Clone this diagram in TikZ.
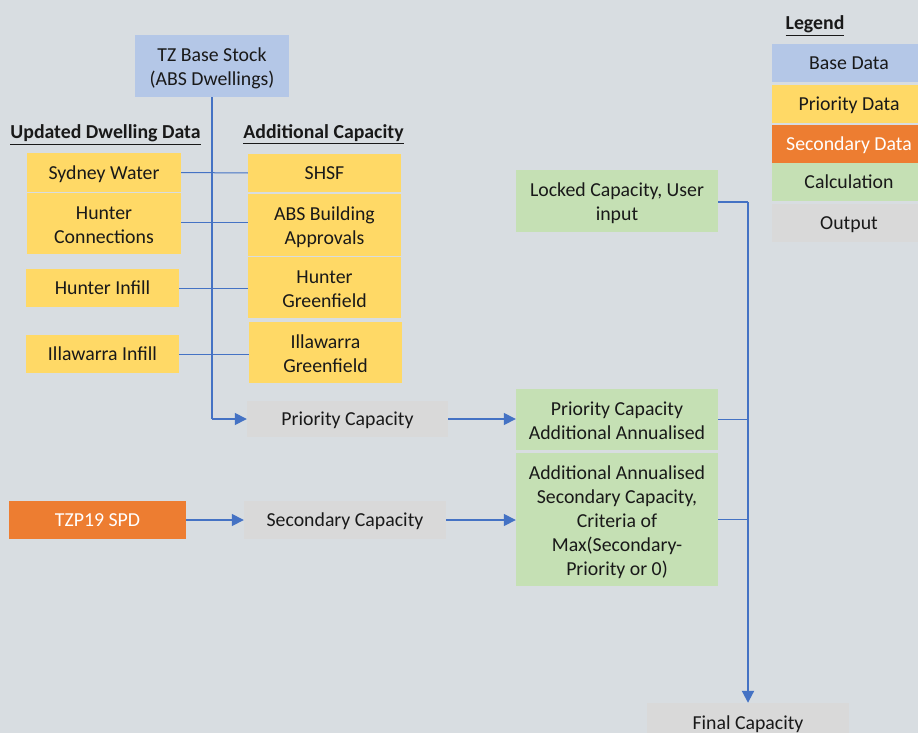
\documentclass[tikz,border=0pt]{standalone}
\usepackage{fontspec}
\setmainfont{Carlito}
\usetikzlibrary{arrows.meta}
\definecolor{bgc}{RGB}{216,221,225}
\definecolor{based}{RGB}{180,199,231}
\definecolor{prio}{RGB}{255,217,102}
\definecolor{secd}{RGB}{237,125,49}
\definecolor{calc}{RGB}{197,224,180}
\definecolor{outp}{RGB}{217,217,217}
\definecolor{link}{RGB}{68,114,196}
\tikzset{
  % text block with fixed top and bottom struts, so cap height sits centred
  box/.style={rectangle, inner sep=0pt, align=center, text=black!90,
    font=\fontsize{19.8}{24}\selectfont,
    execute at begin node={\rule{0pt}{18pt}},
    execute at end node={\rule[-5pt]{0pt}{0pt}}},
  basebox/.style={box, fill=based},
  priobox/.style={box, fill=prio},
  secbox/.style={box, fill=secd, text=white},
  calcbox/.style={box, fill=calc},
  outbox/.style={box, fill=outp},
  heading/.style={font=\fontsize{19.8}{24}\selectfont\bfseries, inner sep=0pt, text=black!90},
  thin link/.style={draw=link, line width=1pt},
  tip/.style={-{Triangle[length=12pt,width=12pt]}},
  feed/.style={draw=link, line width=1.5pt, tip},
  trunk/.style={draw=link, line width=2pt},
}
\newcommand{\ul}[1]{\underline{#1}}
% taller first line for boxes holding several lines
\newcommand{\firstline}{\rule{0pt}{20.5pt}}
\begin{document}
\begin{tikzpicture}[x=1pt,y=-1pt]
  \fill[bgc] (0,0) rectangle (918,733);
  \useasboundingbox (0,0) rectangle (918,733);
  \clip (0,0) rectangle (918,733);

  % base stock
  \node[basebox, minimum width=154pt, minimum height=62pt] (tz) at (212,66) {\firstline TZ Base Stock\\(ABS Dwellings)};

  % column headings
  \node[heading, anchor=base] (hdu) at (105.5,139) {\ul{Updated Dwelling Data}};
  \node[heading, anchor=base] (hda) at (323.5,139) {\ul{Additional Capacity}};

  % updated dwelling data
  \node[priobox, minimum width=154pt, minimum height=39pt] (sw) at (104,172.5) {Sydney Water};
  \node[priobox, minimum width=154pt, minimum height=61pt] (hc) at (104,223.5) {\firstline Hunter\\Connections};
  \node[priobox, minimum width=153pt, minimum height=38pt] (hi) at (102.5,288) {Hunter Infill};
  \node[priobox, minimum width=153pt, minimum height=38pt] (ii) at (102.5,354) {Illawarra Infill};

  % additional capacity
  \node[priobox, minimum width=153pt, minimum height=38pt] (shsf) at (324.5,173) {SHSF};
  \node[priobox, minimum width=153pt, minimum height=62pt] (abs) at (324.5,225) {\firstline ABS Building\\Approvals};
  \node[priobox, minimum width=153pt, minimum height=61pt] (hg) at (324.5,287.5) {\firstline Hunter\\Greenfield};
  \node[priobox, minimum width=153pt, minimum height=61pt] (ig) at (325.5,352.5) {\firstline Illawarra\\Greenfield};

  % capacities
  \node[outbox, minimum width=201pt, minimum height=36pt] (pc) at (347.5,419) {Priority Capacity};
  \node[secbox, minimum width=177pt, minimum height=38pt] (tzp) at (97.5,520) {TZP19 SPD};
  \node[outbox, minimum width=202pt, minimum height=38pt] (sc) at (345,520) {Secondary Capacity};

  % calculations
  \node[calcbox, minimum width=202pt, minimum height=62pt] (lc) at (617,201) {\firstline Locked Capacity, User\\input};
  \node[calcbox, minimum width=202pt, minimum height=61pt] (pca) at (617,419.5) {\firstline Priority Capacity\\Additional Annualised};
  \node[calcbox, minimum width=202pt, minimum height=133pt] (asc) at (617,519.5) {\firstline Additional Annualised\\Secondary Capacity,\\Criteria of\\Max(Secondary-\\Priority or 0)};

  % final output (runs off the lower edge)
  \node[outbox, minimum width=202pt, minimum height=42pt] (fc) at (748,724) {};
  \node[heading, font=\fontsize{19.8}{24}\selectfont, anchor=base] (fct) at (748,729) {Final Capacity};

  % legend
  \node[heading, anchor=base] (lgh) at (815,30) {\ul{Legend}};
  \node[basebox, minimum width=154pt, minimum height=38pt] (lg1) at (849,63) {Base Data};
  \node[priobox, minimum width=154pt, minimum height=38pt] (lg2) at (849,104) {Priority Data};
  \node[secbox, minimum width=154pt, minimum height=38pt] (lg3) at (849,144) {Secondary Data};
  \node[calcbox, minimum width=154pt, minimum height=38pt] (lg4) at (849,182) {Calculation};
  \node[outbox, minimum width=154pt, minimum height=38pt] (lg5) at (849,223) {Output};

  % links from dwelling data to additional capacity
  \draw[thin link] (sw.east) -- (shsf.west);
  \draw[thin link] (hc.east |- 0,222) -- (abs.west |- 0,222);
  \draw[thin link] (hi.east) -- (hg.west |- hi.east);
  \draw[thin link] (ii.east) -- (ig.west |- ii.east);

  % base stock feeding priority capacity
  \draw[trunk] (tz.south) -- (tz.south |- pc.west);
  \draw[feed] (tz.south |- pc.west) -- (pc.west);

  % capacities to calculations
  \draw[feed] (pc.east) -- (pc.east -| pca.west);
  \draw[feed] (tzp.east) -- (sc.west);
  \draw[feed] (sc.east) -- (asc.west |- sc.east);

  % calculations to final capacity
  \coordinate (bus) at (748,202);
  \draw[thin link, line width=1.5pt] (lc.east |- bus) -- (bus);
  \draw[thin link, line width=1.5pt] (pca.east) -- (pca.east -| bus);
  \draw[thin link, line width=1.5pt] (asc.east) -- (asc.east -| bus);
  \draw[trunk, tip] (bus) -- (fc.north);
\end{tikzpicture}
\end{document}
